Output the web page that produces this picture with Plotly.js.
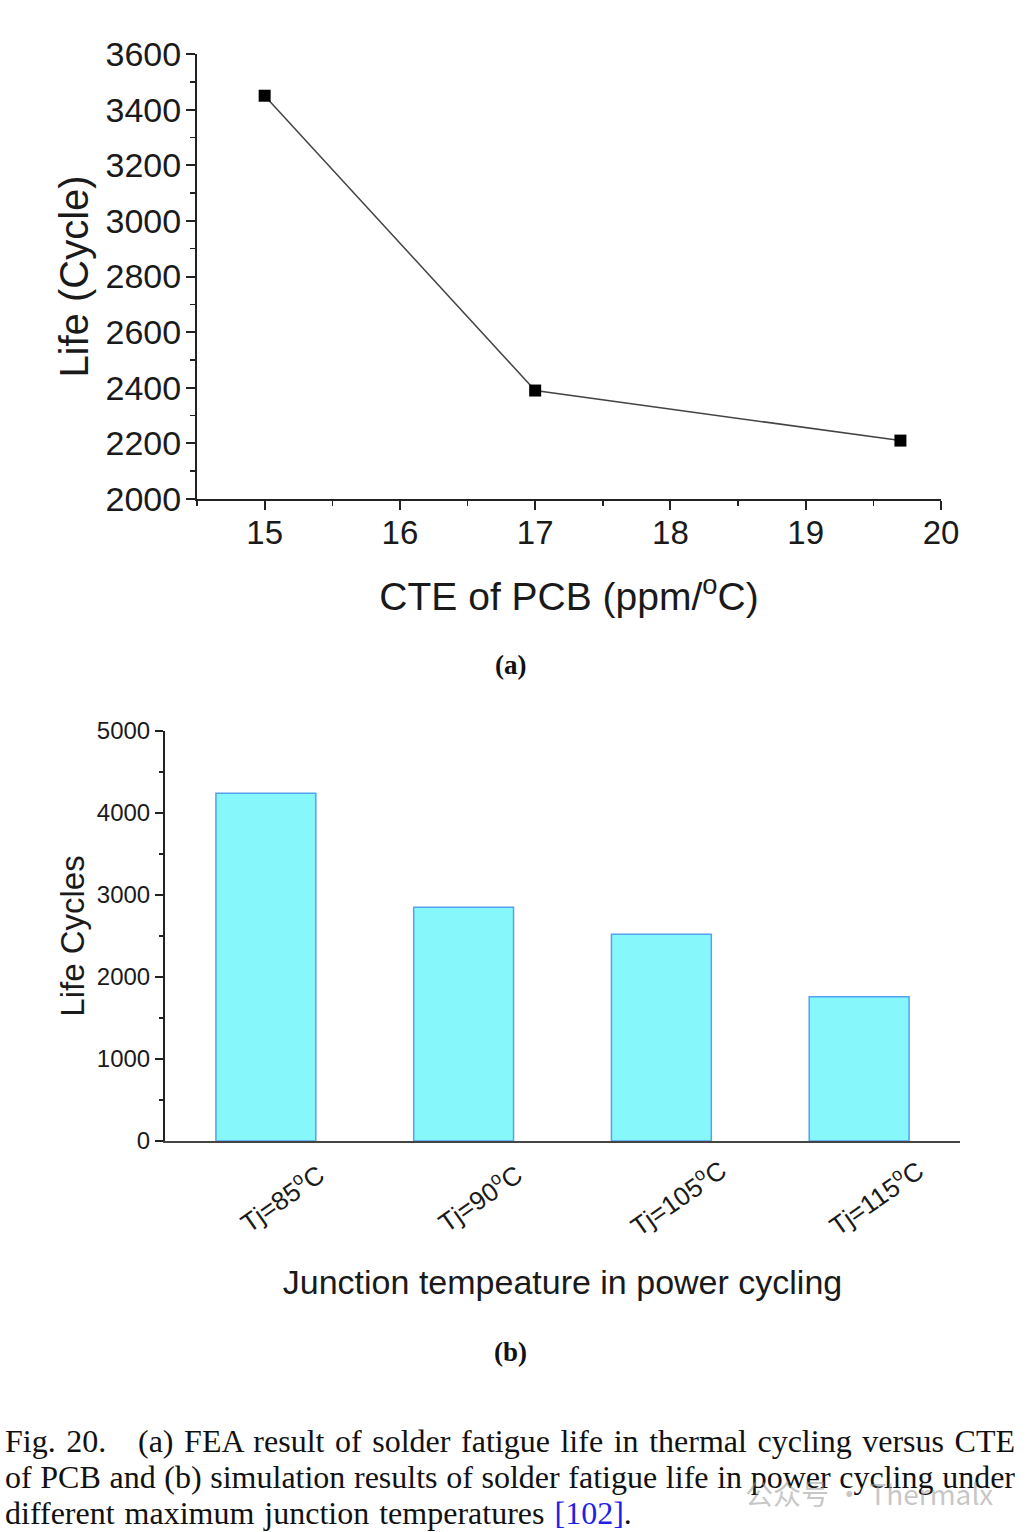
<!DOCTYPE html>
<html>
<head>
<meta charset="utf-8">
<script src="https://cdn.plot.ly/plotly-3.0.1.min.js"></script>
<style>
  html, body { margin: 0; padding: 0; background: #fff; }
  #wrap { position: relative; width: 1030px; height: 1532px; overflow: hidden; }
  #chart { position: absolute; left: 0; top: 0; width: 1030px; height: 1532px; }
  #caption { position: absolute; left: 5px; top: 1423px; width: 1010px;
    font-family: "Liberation Serif", "Times New Roman", serif; font-size: 32px; line-height: 36px; color: #111; }
  #caption .j { text-align: justify; text-align-last: justify; white-space: nowrap; }
  #caption .l { text-align: left; white-space: nowrap; word-spacing: 2px; }
  #caption .ref { color: #1f1fe6; }
</style>
</head>
<body>
<div id="wrap">
  <div id="chart"></div>
  <div id="caption"></div>
</div>
<script>
// ---- Data: panel (a) ----
const cteValues = [15, 17, 19.7];
const lifeThermal = [3450, 2390, 2210];

// ---- Data: panel (b) ----
const tjCategories = ['Tj=85<sup>o</sup>C', 'Tj=90<sup>o</sup>C', 'Tj=105<sup>o</sup>C', 'Tj=115<sup>o</sup>C'];
const lifePower = [4240, 2850, 2520, 1760];

// ---- Text ----
const captionLines = [
  'Fig. 20.&nbsp;&nbsp; (a) FEA result of solder fatigue life in thermal cycling versus CTE',
  'of PCB and (b) simulation results of solder fatigue life in power cycling under',
  'different maximum junction temperatures <span class="ref">[102]</span>.'
];
const watermark = '公众号 · Thermalx';

const W = 1030, H = 1532;
const px = v => v / W;
const py = v => 1 - v / H;

const sans = 'Liberation Sans, Arial, sans-serif';
const serif = 'Liberation Serif, Times New Roman, serif';
const ink = '#1a1a1a';

const traces = [
  {
    type: 'scatter', mode: 'lines+markers',
    x: cteValues, y: lifeThermal,
    xaxis: 'x', yaxis: 'y',
    line: { color: '#444', width: 1.5 },
    marker: { symbol: 'square', size: 12, color: '#000' },
    showlegend: false, hoverinfo: 'x+y'
  },
  {
    type: 'bar',
    x: tjCategories, y: lifePower,
    xaxis: 'x2', yaxis: 'y2',
    width: 0.505,
    marker: { color: '#86f8fc', line: { color: '#55a0ef', width: 1.5 } },
    showlegend: false
  }
];

const annotations = tjCategories.map(c => ({
  x: c, xref: 'x2', y: 0, yref: 'y2',
  text: c, showarrow: false, textangle: -35,
  xshift: 16, yshift: -56,
  font: { family: sans, size: 26, color: ink }
}));
annotations.push(
  { x: 510 / W, xref: 'paper', y: py(665), yref: 'paper', yanchor: 'middle', text: '<b>(a)</b>', showarrow: false,
    font: { family: serif, size: 27, color: '#111' } },
  { x: 510 / W, xref: 'paper', y: py(1352), yref: 'paper', yanchor: 'middle', text: '<b>(b)</b>', showarrow: false,
    font: { family: serif, size: 27, color: '#111' } }
);

const layout = {
  width: W, height: H,
  margin: { l: 0, r: 0, t: 0, b: 0 },
  paper_bgcolor: '#fff', plot_bgcolor: 'rgba(0,0,0,0)',
  showlegend: false,
  xaxis: {
    domain: [px(197), px(941)], anchor: 'y',
    range: [14.5, 20], dtick: 1, tick0: 15,
    showgrid: false, zeroline: false,
    showline: true, linecolor: '#222', linewidth: 2,
    ticks: 'outside', ticklen: 9, tickwidth: 2, tickcolor: '#222',
    minor: { dtick: 0.5, tick0: 15, ticks: 'outside', ticklen: 5, tickwidth: 1.5, tickcolor: '#222', showgrid: false },
    tickfont: { family: sans, size: 33, color: ink },
    ticklabelstandoff: -6,
    title: { text: 'CTE of PCB (ppm/<sup>o</sup>C)', font: { family: sans, size: 39, color: ink }, standoff: 33 }
  },
  yaxis: {
    domain: [py(499), py(54)], anchor: 'x',
    range: [2000, 3600], dtick: 200,
    showgrid: false, zeroline: false,
    showline: true, linecolor: '#222', linewidth: 2,
    ticks: 'outside', ticklen: 9, tickwidth: 2, tickcolor: '#222',
    minor: { dtick: 100, ticks: 'outside', ticklen: 5, tickwidth: 1.5, tickcolor: '#222', showgrid: false },
    tickfont: { family: sans, size: 34, color: ink },
    ticklabelstandoff: -2,
    title: { text: 'Life (Cycle)', font: { family: sans, size: 40, color: ink }, standoff: 5 }
  },
  xaxis2: {
    domain: [px(165), px(960)], anchor: 'y2',
    type: 'category', range: [-0.51, 3.51],
    showgrid: false, zeroline: false,
    showline: true, linecolor: '#444', linewidth: 2,
    ticks: '', showticklabels: false,
    title: { text: 'Junction tempeature in power cycling', font: { family: sans, size: 34, color: ink }, standoff: 128 }
  },
  yaxis2: {
    domain: [py(1141), py(731)], anchor: 'x2',
    range: [0, 5000], dtick: 1000,
    showgrid: false, zeroline: false,
    showline: true, linecolor: '#222', linewidth: 2,
    ticks: 'outside', ticklen: 8, tickwidth: 2, tickcolor: '#222',
    minor: { dtick: 500, ticks: 'outside', ticklen: 4, tickwidth: 1.5, tickcolor: '#222', showgrid: false },
    tickfont: { family: sans, size: 24, color: ink },
    ticklabelstandoff: 0,
    title: { text: 'Life Cycles', font: { family: sans, size: 33, color: ink }, standoff: 2 }
  },
  annotations: annotations
};

Plotly.newPlot('chart', traces, layout, { staticPlot: true, displayModeBar: false });

// Caption (justified text, as in the source figure)
const cap = document.getElementById('caption');
captionLines.forEach((t, i) => {
  const d = document.createElement('div');
  d.className = i < captionLines.length - 1 ? 'j' : 'l';
  d.innerHTML = t;
  cap.appendChild(d);
});
const wm = document.createElement('div');
wm.textContent = watermark;
wm.style.cssText = 'position:absolute;left:745px;top:1473px;font-family:"Noto Sans CJK SC",sans-serif;font-size:28px;color:rgba(150,150,150,0.55);white-space:nowrap;';
document.getElementById('wrap').appendChild(wm);
</script>
</body>
</html>
